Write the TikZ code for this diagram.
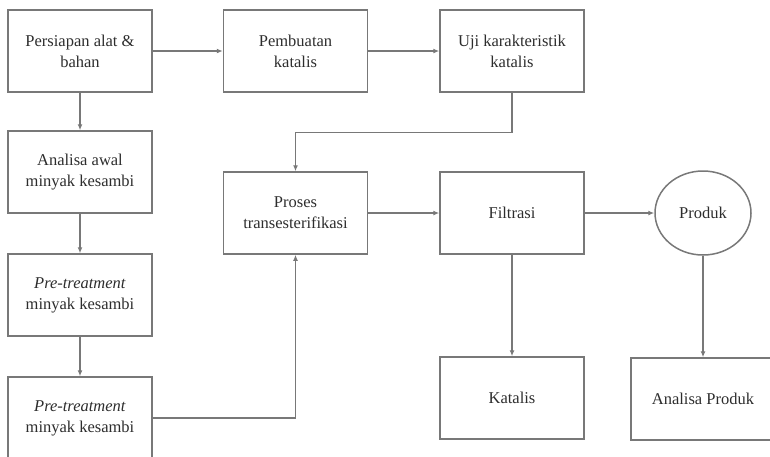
\documentclass[tikz,border=0pt]{standalone}
\usepackage{fontspec}
\setmainfont{Liberation Serif}
\usetikzlibrary{arrows.meta,shapes.geometric}
\definecolor{boxgray}{RGB}{120,120,120}
\definecolor{txtgray}{RGB}{45,45,45}
\tikzset{
  procbox/.style={draw=boxgray,line width=1.5pt,minimum width=144pt,minimum height=82pt,
    align=center,text=txtgray,font=\fontsize{16.5}{21}\selectfont,inner sep=0pt},
  flow/.style={draw=boxgray,line width=1.4pt,-{Latex[length=6pt,width=5pt]}},
}
\begin{document}
\begin{tikzpicture}[x=1pt,y=-1pt]
      \useasboundingbox (0,0) rectangle (770,456);
      \node [procbox] (persiapan) at (80,51) {Persiapan alat \&\\bahan};
      \node [procbox] (pembuatan) at (295.5,51) {Pembuatan\\katalis};
      \node [procbox] (uji) at (512,51) {Uji karakteristik\\katalis};
      \node [procbox] (analisa) at (80,172) {Analisa awal\\minyak kesambi};
      \node [procbox] (pretreatA) at (80,295) {\textit{Pre-treatment}\\minyak kesambi};
      \node [procbox] (pretreatB) at (80,418) {\textit{Pre-treatment}\\minyak kesambi};
      \node [procbox] (proses) at (295.5,213) {Proses\\transesterifikasi};
      \node [procbox] (filtrasi) at (512,213) {Filtrasi};
      \node [ellipse,draw=boxgray,line width=1.5pt,minimum width=96pt,minimum height=84pt,
        text=txtgray,font=\fontsize{16.5}{21}\selectfont,inner sep=0pt] (produk) at (703,213) {Produk};
      \node [procbox] (katalis) at (512,398) {Katalis};
      \node [procbox] (analisaproduk) at (703,399) {Analisa Produk};
      \draw [flow] (persiapan)--(pembuatan);
      \draw [flow] (pembuatan)--(uji);
      \draw [flow] (uji.south)--++(0,40)-|(proses.north);
      \draw [flow] (persiapan)--(analisa);
      \draw [flow] (analisa)--(pretreatA);
      \draw [flow] (pretreatA)--(pretreatB);
      \draw [flow] (pretreatB.east)-|(proses.south);
      \draw [flow] (proses)--(filtrasi);
      \draw [flow] (filtrasi)--(produk);
      \draw [flow] (filtrasi)--(katalis);
      \draw [flow] (produk)--(analisaproduk);
    \end{tikzpicture}
\end{document}
